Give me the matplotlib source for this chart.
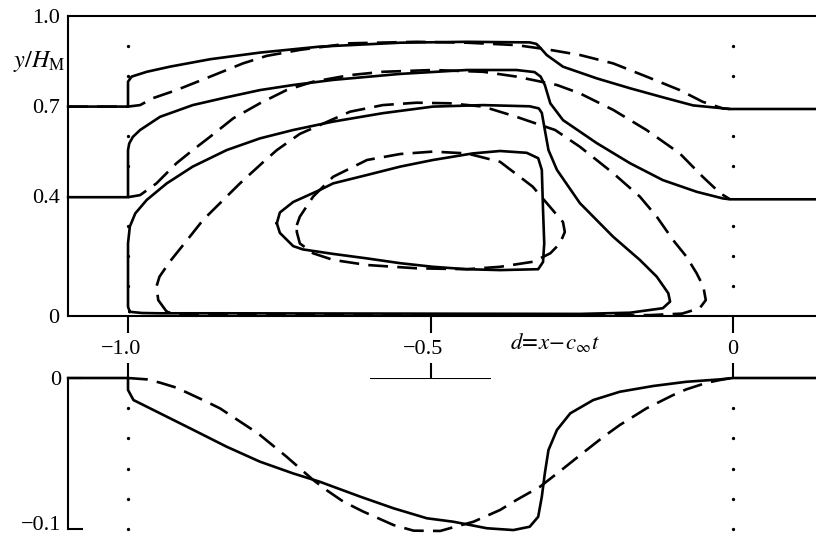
import numpy as np
import matplotlib.pyplot as plt
from matplotlib.transforms import offset_copy, blended_transform_factory, ScaledTranslation

plt.rcParams['font.family'] = ['Liberation Serif', 'DejaVu Serif']
plt.rcParams['mathtext.fontset'] = 'stix'

# ---- streamlines, upper panel (d, y/H_M) ----
# solid: outer streamline starting at 0.7
s1_x = [-1.099, -1.0, -1.0, -0.994, -0.969, -0.931, -0.864, -0.782, -0.683, -0.550,
        -0.440, -0.336, -0.325, -0.318, -0.308, -0.281, -0.225, -0.170, -0.116, -0.066, -0.005, 0.137]
s1_y = [0.698, 0.698, 0.781, 0.798, 0.814, 0.831, 0.856, 0.878, 0.898, 0.911,
        0.914, 0.912, 0.907, 0.893, 0.870, 0.831, 0.792, 0.759, 0.729, 0.702, 0.690, 0.690]

# dashed: outer streamline starting at 0.7
d1_x = [-1.099, -1.0, -0.980, -0.959, -0.920, -0.864, -0.810, -0.771, -0.716, -0.633,
        -0.523, -0.440, -0.358, -0.308, -0.253, -0.198, -0.143, -0.088, -0.050, -0.017, -0.005]
d1_y = [0.698, 0.698, 0.703, 0.726, 0.753, 0.798, 0.842, 0.867, 0.887, 0.909,
        0.914, 0.911, 0.903, 0.889, 0.870, 0.842, 0.798, 0.753, 0.714, 0.692, 0.690]

# solid: streamline starting at 0.4
s2_x = [-1.099, -1.0, -1.0, -0.998, -0.992, -0.980, -0.947, -0.893, -0.837, -0.782, -0.727,
        -0.661, -0.550, -0.440, -0.358, -0.328, -0.318, -0.311, -0.302, -0.281, -0.225,
        -0.170, -0.116, -0.060, -0.017, -0.005, 0.137]
s2_y = [0.396, 0.396, 0.553, 0.575, 0.597, 0.620, 0.664, 0.703, 0.729, 0.753, 0.770,
        0.787, 0.807, 0.820, 0.820, 0.813, 0.798, 0.770, 0.709, 0.653, 0.576,
        0.509, 0.453, 0.414, 0.392, 0.389, 0.389]

# dashed: streamline starting at 0.4
d2_x = [-1.0, -0.980, -0.953, -0.920, -0.893, -0.864, -0.826, -0.782, -0.738, -0.694,
        -0.633, -0.579, -0.496, -0.413, -0.358, -0.291, -0.253, -0.198, -0.143, -0.088,
        -0.050, -0.021, -0.005]
d2_y = [0.396, 0.403, 0.442, 0.509, 0.553, 0.598, 0.659, 0.709, 0.753, 0.781,
        0.803, 0.814, 0.820, 0.814, 0.798, 0.770, 0.742, 0.687, 0.620, 0.542,
        0.464, 0.409, 0.389]

# solid: large closed streamline
s3_x = [-0.997, -1.0, -1.0, -1.0, -0.997, -0.988, -0.969, -0.936, -0.893, -0.837,
        -0.782, -0.727, -0.661, -0.579, -0.496, -0.413, -0.336, -0.321, -0.316, -0.311,
        -0.305, -0.291, -0.253, -0.198, -0.154, -0.126, -0.107, -0.104, -0.116, -0.170,
        -0.253, -0.550, -0.837, -0.947, -0.977, -0.997]
s3_y = [0.014, 0.031, 0.076, 0.242, 0.298, 0.342, 0.387, 0.442, 0.498, 0.553,
        0.592, 0.620, 0.648, 0.676, 0.698, 0.703, 0.699, 0.692, 0.677, 0.620,
        0.553, 0.487, 0.376, 0.264, 0.187, 0.131, 0.076, 0.048, 0.026, 0.011,
        0.007, 0.008, 0.009, 0.009, 0.010, 0.014]

# dashed: large closed streamline
d3_x = [-0.936, -0.950, -0.953, -0.948, -0.931, -0.898, -0.876, -0.837, -0.815, -0.776,
        -0.754, -0.716, -0.633, -0.579, -0.523, -0.468, -0.413, -0.358, -0.319, -0.294,
        -0.253, -0.198, -0.154, -0.126, -0.099, -0.077, -0.060, -0.049, -0.045, -0.055,
        -0.084, -0.137, -0.500, -0.914, -0.936]
d3_y = [0.014, 0.053, 0.098, 0.131, 0.181, 0.264, 0.320, 0.398, 0.442, 0.514,
        0.553, 0.607, 0.681, 0.703, 0.711, 0.709, 0.698, 0.664, 0.637, 0.620,
        0.564, 0.476, 0.398, 0.331, 0.253, 0.198, 0.142, 0.098, 0.053, 0.026,
        0.008, 0.003, 0.003, 0.004, 0.014]

# solid: inner closed streamline
s4_x = [-0.754, -0.749, -0.727, -0.683, -0.661, -0.605, -0.550, -0.496, -0.430, -0.385,
        -0.341, -0.322, -0.316, -0.314, -0.312, -0.314, -0.322, -0.385, -0.440, -0.496,
        -0.550, -0.605, -0.661, -0.711, -0.727, -0.749, -0.754]
s4_y = [0.309, 0.345, 0.380, 0.420, 0.442, 0.470, 0.498, 0.520, 0.542, 0.550,
        0.544, 0.526, 0.487, 0.353, 0.242, 0.180, 0.156, 0.153, 0.156, 0.164,
        0.176, 0.192, 0.207, 0.222, 0.233, 0.277, 0.309]

# dashed: inner closed streamline
d4_x = [-0.721, -0.716, -0.694, -0.661, -0.605, -0.550, -0.496, -0.440, -0.385, -0.331,
        -0.298, -0.281, -0.278, -0.286, -0.302, -0.330, -0.385, -0.440, -0.523, -0.605,
        -0.661, -0.694, -0.716, -0.721, -0.721]
d4_y = [0.303, 0.331, 0.398, 0.464, 0.520, 0.540, 0.548, 0.542, 0.514, 0.431,
        0.353, 0.313, 0.280, 0.242, 0.209, 0.181, 0.164, 0.156, 0.159, 0.170,
        0.187, 0.209, 0.242, 0.280, 0.303]

# ---- surface displacement, lower panel ----
bs_x = [-1.099, -1.0, -1.0, -0.991, -0.947, -0.892, -0.837, -0.782, -0.727, -0.683,
        -0.616, -0.561, -0.506, -0.462, -0.407, -0.363, -0.336, -0.322, -0.316, -0.311,
        -0.305, -0.291, -0.269, -0.231, -0.187, -0.132, -0.077, -0.021, 0.0, 0.137]
bs_y = [0.0, 0.0, -0.0079, -0.0146, -0.0234, -0.0344, -0.0455, -0.0554, -0.0632, -0.0687,
        -0.0786, -0.0863, -0.0929, -0.0952, -0.0995, -0.1007, -0.0985, -0.0919, -0.0786, -0.0631,
        -0.0477, -0.0344, -0.0234, -0.0146, -0.0091, -0.0053, -0.0025, -0.0009, 0.0, 0.0]

bd_x = [-1.0, -0.969, -0.947, -0.920, -0.876, -0.848, -0.798, -0.782, -0.738, -0.694,
        -0.672, -0.644, -0.611, -0.561, -0.528, -0.484, -0.468, -0.429, -0.385, -0.358,
        -0.319, -0.280, -0.242, -0.214, -0.187, -0.143, -0.099, -0.077, -0.043, -0.021, -0.002]
bd_y = [0.0, -0.0009, -0.0031, -0.0064, -0.0146, -0.0201, -0.0333, -0.0377, -0.0521, -0.0675,
        -0.0742, -0.0819, -0.0885, -0.0974, -0.1011, -0.1013, -0.0995, -0.0952, -0.0874, -0.0808,
        -0.0720, -0.0598, -0.0477, -0.0389, -0.0311, -0.0201, -0.0113, -0.0075, -0.0031, -0.0013, 0.0]

top_yticks = [0, 0.4, 0.7, 1.0]
top_ylabels = ['0', '0.4', '0.7', '1.0']
bot_yticks = [-0.1, 0]
bot_ylabels = ['\u22120.1', '0']
xticks = [-1.0, -0.5, 0.0]
xlabels = ['\u22121.0', '\u22120.5', '0']
dots_top = [0.1, 0.2, 0.3, 0.5, 0.6, 0.8, 0.9]
dots_bot = [-0.02, -0.04, -0.06, -0.08, -0.1]

W, H = 816, 538
fig = plt.figure(figsize=(W / 100, H / 100), dpi=100)
xlim = (-1.0992, 0.1372)
FS = 16

ax1 = fig.add_axes([68 / W, 1 - 316 / H, 748 / W, 300 / H])
ax2 = fig.add_axes([68 / W, 1 - 529 / H, 748 / W, 151 / H])

LW = 1.9
dash = (0, (7.5, 3.5))
for ax in (ax1, ax2):
    ax.set_xlim(*xlim)
    ax.patch.set_alpha(0)
    for sp in ax.spines.values():
        sp.set_linewidth(1.5)

# upper panel
ax1.set_ylim(0, 1)
ax1.spines['right'].set_visible(False)
for xs, ys in [(s1_x, s1_y), (s2_x, s2_y), (s3_x, s3_y), (s4_x, s4_y)]:
    ax1.plot(xs, ys, color='black', lw=LW, solid_joinstyle='round', clip_on=False)
for xs, ys in [(d1_x, d1_y), (d2_x, d2_y), (d3_x, d3_y), (d4_x, d4_y)]:
    ax1.plot(xs, ys, color='black', lw=LW, linestyle=dash, clip_on=False)
for xd in (-1.0, 0.0):
    ax1.plot([xd] * len(dots_top), dots_top, 'o', color='black', ms=2.4, mew=0)

ax1.set_yticks(top_yticks)
ax1.set_yticklabels(top_ylabels)
ax1.tick_params(axis='y', length=0, pad=6, labelsize=FS)
ax1.set_xticks(xticks)
ax1.set_xticklabels([])
ax1.tick_params(axis='x', direction='out', length=12, width=1.5)

# tick labels sit between the panels
tb = blended_transform_factory(ax1.transData, ax1.transAxes)
for xv, lab in zip(xticks, xlabels):
    tr = offset_copy(tb, fig=fig, x=-5 if lab.startswith('\u2212') else 0, y=0, units='points')
    ax1.text(xv, -0.11, lab, transform=tr, ha='center', va='center', fontsize=FS)
ax1.text(-0.3686, -0.09, r'$d\!=\!x\!-\!c_{\infty}t$', transform=tb,
         ha='left', va='center', fontsize=16.5)
ax1.text(-0.004, 0.85, r'$y/H_{\rm M}$', transform=ax1.transAxes,
         ha='right', va='center', fontsize=17.5)

# lower panel
ax2.set_ylim(-0.1, 0)
for side in ('top', 'right', 'bottom'):
    ax2.spines[side].set_visible(False)
ax2.plot(bs_x, bs_y, color='black', lw=LW, solid_joinstyle='round', clip_on=False)
ax2.plot(bd_x, bd_y, color='black', lw=LW, linestyle=dash, clip_on=False)
ax2.hlines(0, -0.6, -0.4, color='black', lw=1.5)
for xd in (-1.0, 0.0):
    ax2.plot([xd] * len(dots_bot), dots_bot, 'o', color='black', ms=2.4, mew=0, clip_on=False)

ax2.set_yticks(bot_yticks)
ax2.set_yticklabels(bot_ylabels)
ax2.tick_params(axis='y', direction='in', length=11, width=1.5, pad=5, labelsize=FS)
# keep the lowest label inside the canvas
low = ax2.get_yticklabels()[0]
low.set_transform(low.get_transform() + ScaledTranslation(0, 4 / 72, fig.dpi_scale_trans))
ax2.xaxis.set_ticks_position('top')
ax2.set_xticks(xticks)
ax2.set_xticklabels([])
ax2.tick_params(axis='x', direction='out', length=11, width=1.5)

fig.savefig('out.png', dpi=100)
